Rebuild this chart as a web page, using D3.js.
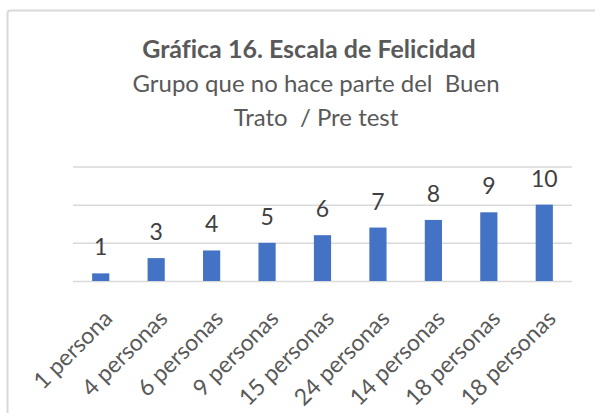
<!DOCTYPE html>
<html>
<head>
<meta charset="utf-8">
<script src="https://cdn.jsdelivr.net/npm/d3@7"></script>
<style>
  html, body { margin: 0; padding: 0; background: #fff; }
  svg { display: block; font-family: Lato, "Open Sans", sans-serif; font-variant-ligatures: none; }
</style>
</head>
<body>
<div id="chart"></div>
<script>
const categories = ['1 persona', '4 personas', '6 personas', '9 personas', '15 personas',
  '24 personas', '14 personas', '18 personas', '18 personas'];
const values = [1, 3, 4, 5, 6, 7, 8, 9, 10];
const gridTicks = [0, 5, 10, 15];
const titleText = 'Gráfica 16. Escala de Felicidad';
const subtitleLines = ['Grupo que no hace parte del  Buen', 'Trato  / Pre test'];

const width = 595, height = 413;

const svg = d3.select('#chart').append('svg')
  .attr('width', width).attr('height', height);

// chart area border (right and bottom edges fall outside the picture)
svg.append('rect')
  .attr('x', 7.5).attr('y', 10.5)
  .attr('width', 620).attr('height', 440)
  .attr('rx', 3)
  .attr('fill', '#fff')
  .attr('stroke', '#d9d9d9')
  .attr('stroke-width', 2);

// bands keyed by index since two categories share a label
const x = d3.scaleBand()
  .domain(d3.range(categories.length))
  .range([73, 572])
  .paddingInner(0.69)
  .paddingOuter(0.345);

const y = d3.scaleLinear()
  .domain([0, 15])
  .range([281, 166.5]);

// title
svg.append('text')
  .attr('x', 309).attr('y', 58)
  .attr('text-anchor', 'middle')
  .attr('font-size', 25)
  .attr('font-weight', 'bold')
  .attr('fill', '#595959')
  .style('white-space', 'pre')
  .text(titleText);

svg.selectAll('.subtitle')
  .data(subtitleLines)
  .enter().append('text')
    .attr('class', 'subtitle')
    .attr('x', 316)
    .attr('y', (d, i) => 92 + i * 33.5)
    .attr('text-anchor', 'middle')
    .attr('font-size', 24)
    .attr('fill', '#595959')
    .style('white-space', 'pre')
    .text(d => d);

// gridlines
svg.append('g')
  .attr('class', 'grid')
  .attr('transform', 'translate(73,0)')
  .call(d3.axisLeft(y).tickValues(gridTicks).tickSize(-499).tickFormat(''))
  .call(g => g.select('.domain').remove())
  .call(g => g.selectAll('line').attr('stroke', '#d9d9d9').attr('stroke-width', 1.5));

// bars
svg.append('g')
  .selectAll('rect')
  .data(values)
  .enter().append('rect')
    .attr('x', (d, i) => x(i))
    .attr('y', d => y(d))
    .attr('width', x.bandwidth())
    .attr('height', d => y(0) - y(d))
    .attr('fill', '#4472c4');

// data labels
svg.append('g')
  .selectAll('text')
  .data(values)
  .enter().append('text')
    .attr('x', (d, i) => x(i) + x.bandwidth() / 2)
    .attr('y', d => y(d) - 18)
    .attr('text-anchor', 'middle')
    .attr('font-size', 23)
    .attr('fill', '#404040')
    .text(d => d);

// category labels
svg.append('g')
  .selectAll('text')
  .data(categories)
  .enter().append('text')
    .attr('transform', (d, i) => `translate(${x(i) + x.bandwidth() / 2 + 13},${y(0) + 39}) rotate(-45)`)
    .attr('text-anchor', 'end')
    .attr('font-size', 23)
    .attr('fill', '#595959')
    .text(d => d);
</script>
</body>
</html>
